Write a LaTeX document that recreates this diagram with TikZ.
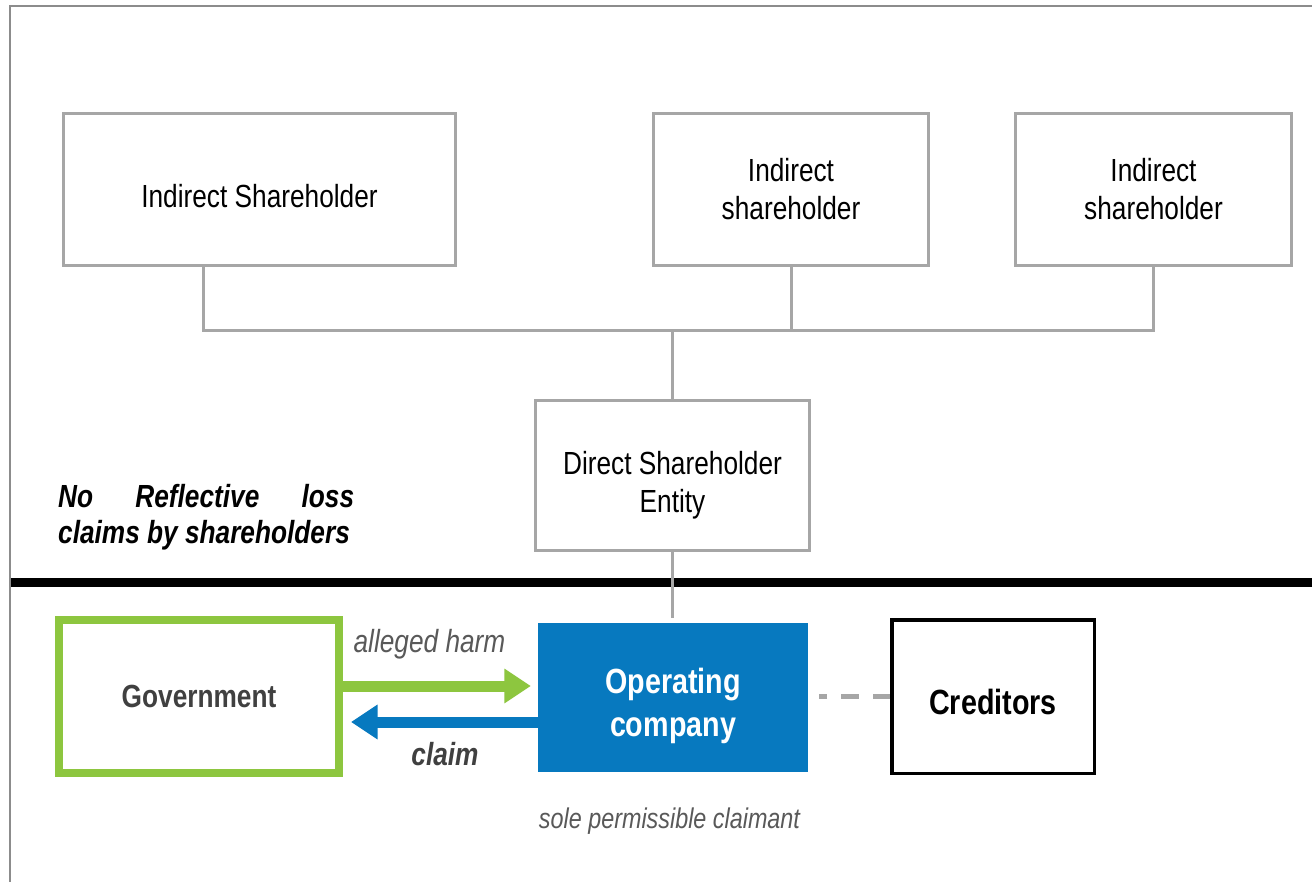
\documentclass[tikz,border=0pt]{standalone}
\usepackage{fontspec}
\setmainfont{Liberation Sans}[FakeStretch=0.82]
\usetikzlibrary{arrows.meta}
\definecolor{boxgray}{HTML}{A6A6A6}
\definecolor{framegray}{HTML}{8C8C8C}
\definecolor{govgreen}{HTML}{8DC63F}
\definecolor{opblue}{HTML}{0779BF}
\definecolor{darktext}{HTML}{404040}
\definecolor{midtext}{HTML}{595959}
\begin{document}
\begin{tikzpicture}[x=1pt,y=-1pt,
  shbox/.style={draw=boxgray, line width=3pt, fill=white, inner sep=0pt, align=center,
    font=\fontsize{32}{38}\selectfont},
  conn/.style={draw=boxgray, line width=3pt},
  bigarrow/.style={line width=11pt, -{Triangle[length=26.5pt,width=33pt]}},
  lbl/.style={inner sep=0pt, anchor=base}]
\useasboundingbox (0,0) rectangle (1312,882);
\fill[white] (0,0) rectangle (1312,882);

% frame
\coordinate (frTR) at (1312,5.7);
\coordinate (frTL) at (10.3,5.7);
\coordinate (frBL) at (10.3,882);
\draw[framegray, line width=2pt] (frTR) -- (frTL) -- (frBL);

% boxes
\node[shbox, minimum width=392pt, minimum height=152pt] (is1) at (259.5,189.5) {\rule{0pt}{37pt}Indirect Shareholder};
\node[shbox, minimum width=275pt, minimum height=152pt] (is2) at (791,189.5) {Indirect\\shareholder};
\node[shbox, minimum width=276pt, minimum height=152pt] (is3) at (1153.5,189.5) {Indirect\\shareholder};
\node[shbox, minimum width=274pt, minimum height=150pt] (ds) at (672.5,475.5) {\rule{0pt}{42.5pt}Direct Shareholder\\Entity};

\node[draw=govgreen, line width=8pt, fill=white, inner sep=0pt, minimum width=280pt, minimum height=153pt,
  text=darktext, font=\fontsize{32}{38}\selectfont\bfseries] (gov) at (199,696.5) {Government};
\node[fill=opblue, inner sep=0pt, minimum width=270pt, minimum height=149pt, text=white, align=center,
  font=\fontsize{35}{43}\selectfont\bfseries] (op) at (673,697.5) {\rule{0pt}{43pt}Operating\\company};
\node[draw=black, line width=3.5pt, fill=white, inner sep=0pt, minimum width=202.5pt, minimum height=153.2pt,
  font=\fontsize{35}{43}\selectfont\bfseries] (cred) at (993,696.7) {\rule{0pt}{36.9pt}Creditors};

% labels
\node[lbl, text=midtext, font=\fontsize{32}{38}\selectfont\itshape] (harm) at (429.5,652) {alleged harm};
\node[lbl, text=darktext, font=\fontsize{32}{38}\selectfont\bfseries\itshape] (claim) at (445,765) {claim};
\node[lbl, text=midtext, font=\fontsize{28.5}{34}\selectfont\itshape] (sole) at (669.5,828) {sole permissible claimant};
\node[inner sep=0pt, anchor=north west, align=left, font=\fontsize{32}{36.5}\selectfont\bfseries\itshape] (noref) at (58,484)
  {\makebox[296pt][s]{No Reflective loss}\\claims by shareholders};

% divider
\coordinate (divL) at (11,582.5);
\coordinate (divR) at (1312,582.5);
\draw[black, line width=8.5pt] (divL) -- (divR);

% tree connectors
\coordinate (bus) at (0,331);
\draw[conn] ([xshift=-56.5pt]is1.south) |- (bus -| is3.south) -- (is3.south);
\draw[conn] (is2.south) -- (is2.south |- bus);
\draw[conn] (ds.north) -- (ds.north |- bus);
\coordinate (opTop) at ([yshift=5pt]op.north);
\draw[conn] (ds.south) -- (opTop -| ds.south);

% arrows
\draw[bigarrow, govgreen, shorten >=7pt] ([yshift=10.5pt]gov.east) -- ([yshift=10.5pt]gov.east -| op.west);
\draw[bigarrow, opblue, shorten >=8pt] ([yshift=-24.5pt]op.west) -- ([yshift=-24.5pt]op.west -| gov.east);

% dashed link
\draw[boxgray, line width=5pt, dash pattern=on 17.5pt off 14pt] (cred.west) -- ([xshift=11pt]op.east |- cred.west);
\end{tikzpicture}
\end{document}
